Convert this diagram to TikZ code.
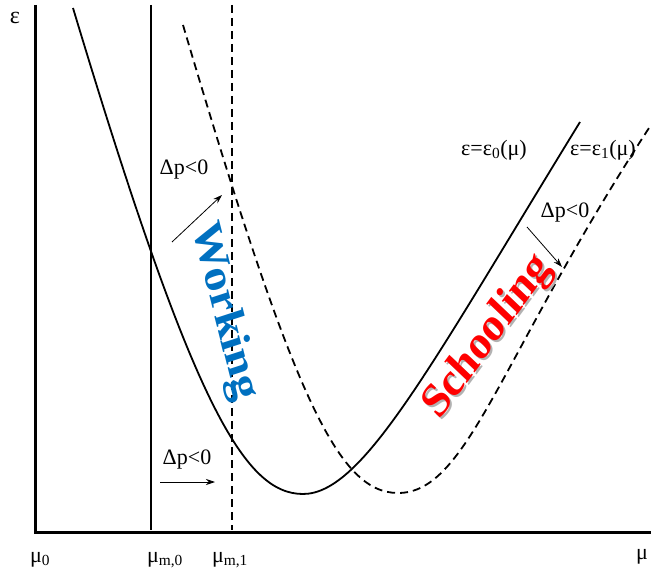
\documentclass[tikz,border=0pt]{standalone}
\usepackage{fontspec}
\setmainfont{Liberation Serif}
\usetikzlibrary{arrows.meta}
\definecolor{workblue}{RGB}{0,112,192}
\definecolor{schoolred}{RGB}{255,0,0}
\tikzset{
  axis/.style={line width=3pt},
  curve/.style={line width=1.8pt},
  vline/.style={line width=1.4pt},
  dashline/.style={dash pattern=on 8pt off 5pt},
  parr/.style={-{Stealth[length=9pt,width=6pt]}, line width=0.8pt},
  lab/.style={font=\fontsize{22}{22}\selectfont, inner sep=0pt},
  big/.style={font=\fontsize{48}{48}\selectfont\bfseries, inner sep=0pt, xscale=0.88}
}
\begin{document}
\begin{tikzpicture}[x=1pt,y=-1pt]
\useasboundingbox (0,0) rectangle (651,577);
% axes
\coordinate (O) at (35,532);
\coordinate (Ytop) at (35,5);
\coordinate (Xend) at (651,532);
\draw[axis] (Ytop) -- (O) -- (Xend);
% vertical lines
\coordinate (m0top) at (151,5);
\coordinate (m0bot) at (151,530);
\coordinate (m1top) at (232,5);
\coordinate (m1bot) at (232,530);
\draw[vline] (m0top) -- (m0bot);
\draw[vline,dashline] (m1top) -- (m1bot);
% solid curve eps0
\coordinate (s0) at (73,8);
\coordinate (smin) at (303,494);
\coordinate (s1) at (580,122);
\draw[curve] (s0) .. controls (191,400) and (243,494) .. (smin)
  .. controls (363,494) and (430,366.5) .. (s1);
% dashed curve eps1
\coordinate (d0) at (183,25);
\coordinate (dmin) at (398,493);
\coordinate (d1) at (649,128);
\draw[curve,dashline] (d0) .. controls (293,397) and (338,493) .. (dmin)
  .. controls (468,493) and (499,358) .. (d1);
% labels
\node[lab, font=\fontsize{24}{24}\selectfont] (eps) at (15,18) {ε};
\node[lab] (mu0) at (40,560) {μ\textsubscript{0}};
\node[lab] (mum0) at (165,560) {μ\textsubscript{m,0}};
\node[lab] (mum1) at (230,560) {μ\textsubscript{m,1}};
\node[lab] (mu) at (642,557) {μ};
\node[lab] (e0) at (494,150) {ε=ε\textsubscript{0}(μ)};
\node[lab] (e1) at (603,150) {ε=ε\textsubscript{1}(μ)};
% delta p labels and arrows
\node[lab] (dp1) at (184,170) {Δp<0};
\coordinate (a1s) at (172,242);
\coordinate (a1e) at (222,195);
\draw[parr] (a1s) -- (a1e);
\node[lab] (dp2) at (187,460) {Δp<0};
\coordinate (a2s) at (160,482);
\coordinate (a2e) at (215,482);
\draw[parr] (a2s) -- (a2e);
\node[lab] (dp3) at (565,213) {Δp<0};
\coordinate (a3s) at (527,227);
\coordinate (a3e) at (562,267);
\draw[parr] (a3s) -- (a3e);
% region labels
\node[big, text=workblue, rotate=-74] (work) at (224,312) {Working};
\node[big, text=black!30, rotate=50] (schoolsh) at (490,339) {Schooling};
\node[big, text=schoolred, rotate=50] (school) at (488,337) {Schooling};
\end{tikzpicture}
\end{document}
